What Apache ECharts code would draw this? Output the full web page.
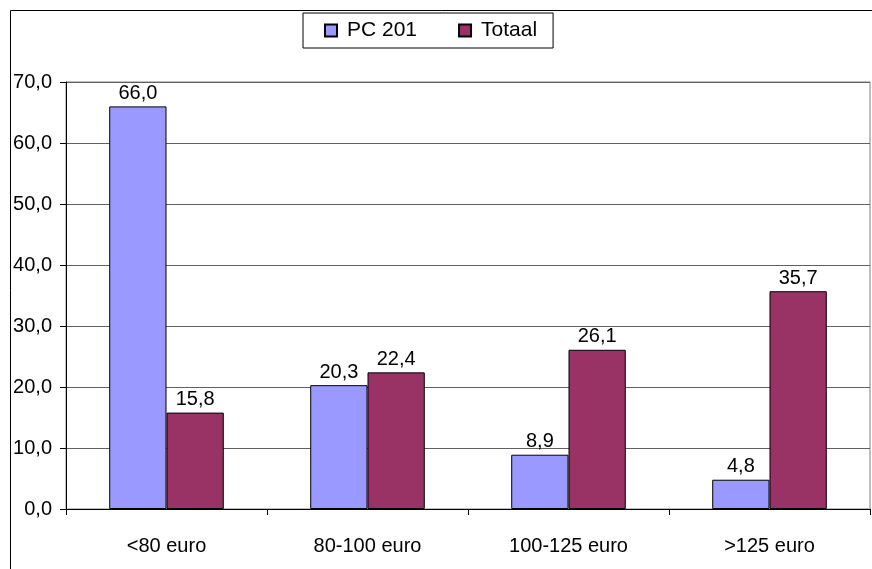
<!DOCTYPE html>
<html>
<head>
<meta charset="utf-8">
<script src="https://cdn.jsdelivr.net/npm/echarts@6/dist/echarts.min.js"></script>
<style>
html,body{margin:0;padding:0;background:#fff;}
#chart{width:872px;height:569px;}
</style>
</head>
<body>
<div id="chart"></div>
<script>
var categories = ['<80 euro', '80-100 euro', '100-125 euro', '>125 euro'];
var pc201 = [66.0, 20.3, 8.9, 4.8];
var totaal = [15.8, 22.4, 26.1, 35.7];
var seriesNames = ['PC 201', 'Totaal'];
var yMin = 0, yMax = 70, yStep = 10;

var FONT = 'Liberation Sans, Arial, sans-serif';
function fmt(v) { return Number(v).toFixed(1).replace('.', ','); }

var chart = echarts.init(document.getElementById('chart'));
chart.setOption({
  animation: false,
  backgroundColor: '#fff',
  graphic: [{
    type: 'rect',
    shape: { x: 10.5, y: 10.5, width: 900, height: 600 },
    style: { fill: 'none', stroke: '#000', lineWidth: 1 },
    z: -1
  }],
  legend: {
    left: 303, top: 13,
    data: seriesNames,
    icon: 'rect',
    itemWidth: 12, itemHeight: 12,
    itemGap: 41,
    padding: [7, 16, 7, 21],
    borderColor: '#000', borderWidth: 1,
    backgroundColor: '#fff',
    textStyle: { fontFamily: FONT, fontSize: 21, color: '#000', padding: [0, 0, 0, 5] }
  },
  grid: {
    left: 66, right: 2, top: 82, bottom: 60,
    show: true, borderColor: '#808080', borderWidth: 1
  },
  xAxis: {
    type: 'category',
    data: categories,
    axisLine: { lineStyle: { color: '#000', width: 1 } },
    axisTick: { show: true, length: 6, lineStyle: { color: '#000' } },
    axisLabel: { fontFamily: FONT, fontSize: 20, color: '#000', margin: 27 }
  },
  yAxis: {
    type: 'value',
    min: yMin, max: yMax, interval: yStep,
    axisLine: { show: true, lineStyle: { color: '#000', width: 1 } },
    axisTick: { show: true, length: 6, lineStyle: { color: '#000' } },
    axisLabel: { fontFamily: FONT, fontSize: 20, color: '#000', margin: 14, formatter: fmt },
    splitLine: { show: true, lineStyle: { color: '#606060', width: 1 } }
  },
  series: [{
    name: seriesNames[0],
    type: 'bar',
    data: pc201,
    barGap: '0%',
    barCategoryGap: '43%',
    itemStyle: { color: '#9999FF', borderColor: '#000', borderWidth: 1 },
    label: { show: true, position: 'top', distance: 3, fontFamily: FONT, fontSize: 20, color: '#000', formatter: function (p) { return fmt(p.value); } }
  }, {
    name: seriesNames[1],
    type: 'bar',
    data: totaal,
    barGap: '0%',
    barCategoryGap: '43%',
    itemStyle: { color: '#993366', borderColor: '#000', borderWidth: 1 },
    label: { show: true, position: 'top', distance: 3, fontFamily: FONT, fontSize: 20, color: '#000', formatter: function (p) { return fmt(p.value); } }
  }]
});
</script>
</body>
</html>
